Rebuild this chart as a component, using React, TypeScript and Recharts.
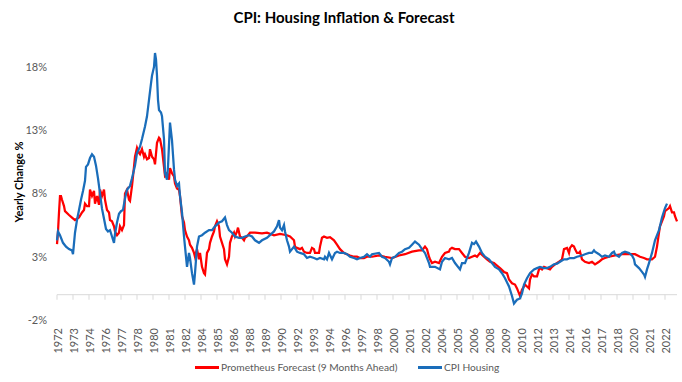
import { LineChart, Line, XAxis, YAxis, ReferenceLine } from "recharts";

// months counted from Jan 1972
const housingMonths = [
  0, 1, 3, 6, 9, 12, 15, 16, 18, 20, 22, 24, 26, 28, 29, 31, 33, 35, 37, 39,
  41, 43, 45, 47, 49, 51, 53, 55, 57, 58, 60, 62, 64, 66, 68, 70, 73, 75, 78, 80,
  83, 85, 88, 90, 92, 94, 95, 97, 98, 99, 100, 101, 102, 104, 105, 107, 108, 110, 111, 113,
  115, 117, 118, 120, 122, 123, 125, 127, 128, 130, 132, 133, 135, 137, 138, 140, 142, 145, 148, 152,
  155, 158, 162, 165, 168, 170, 172, 175, 178, 182, 185, 188, 192, 195, 198, 202, 205, 210, 217, 220,
  222, 223, 225, 227, 228, 230, 232, 233, 237, 240, 243, 247, 250, 253, 257, 260, 263, 267, 268, 270,
  272, 275, 278, 280, 283, 287, 290, 293, 297, 300, 303, 307, 310, 313, 315, 322, 325, 328, 332, 333,
  335, 338, 342, 345, 348, 352, 355, 358, 362, 365, 368, 372, 373, 378, 383, 385, 388, 392, 395, 398,
  403, 405, 408, 412, 415, 417, 419, 422, 425, 428, 432, 435, 438, 442, 445, 448, 452, 455, 457, 460,
  463, 465, 467, 470, 473, 477, 480, 483, 487, 490, 493, 497, 500, 503, 507, 510, 513, 517, 520, 525,
  528, 532, 535, 537, 538, 542, 545, 548, 552, 555, 557, 558, 562, 565, 568, 572, 575, 577, 578, 582,
  585, 587, 588, 590, 592, 595, 598, 602, 605, 608, 610,
];
const housingValues = [
  4.3, 5.0, 4.7, 4.1, 3.8, 3.6, 3.5, 3.2, 4.9, 5.9, 6.7, 7.5, 8.2, 9.0, 10.1, 10.3, 10.8, 11.1, 10.9, 10.2,
  9.2, 8.0, 6.8, 6.0, 5.2, 5.0, 5.1, 4.6, 4.1, 4.8, 5.7, 6.4, 6.6, 6.7, 7.6, 8.3, 8.6, 9.2, 10.2, 11.2,
  11.7, 12.3, 13.3, 14.1, 15.4, 16.7, 17.3, 18.0, 19.1, 18.6, 17.3, 15.4, 14.6, 14.4, 14.1, 12.3, 9.6, 9.1, 10.1, 13.6,
  12.2, 9.9, 9.1, 8.6, 8.8, 7.8, 6.5, 4.6, 3.8, 2.2, 3.3, 2.9, 1.7, 0.8, 1.7, 3.8, 4.6, 4.7, 4.9, 5.1,
  5.1, 5.4, 5.7, 5.8, 6.1, 5.5, 5.1, 4.9, 4.6, 4.5, 4.5, 4.6, 4.7, 4.6, 4.3, 4.1, 4.3, 4.5, 5.0, 5.4,
  5.9, 5.3, 5.1, 5.5, 5.0, 4.3, 3.8, 3.4, 3.8, 3.4, 3.3, 3.2, 2.9, 3.0, 2.9, 2.8, 2.9, 2.8, 3.0, 2.8,
  3.3, 2.8, 3.3, 3.4, 3.3, 3.3, 3.2, 3.0, 2.9, 2.8, 2.9, 3.0, 3.2, 3.0, 3.2, 3.3, 3.0, 2.9, 2.6, 2.4,
  2.9, 3.0, 3.3, 3.4, 3.6, 3.7, 3.95, 4.2, 3.95, 3.6, 3.3, 2.5, 2.2, 2.2, 2.0, 2.6, 2.9, 2.8, 2.9, 2.5,
  2.0, 2.5, 2.5, 3.3, 4.1, 4.0, 4.2, 3.8, 3.3, 3.0, 2.8, 2.5, 2.2, 2.0, 1.7, 1.3, 0.65, -0.1, -0.7, -0.4,
  -0.3, 0.1, 0.8, 1.3, 1.7, 2.0, 2.1, 2.2, 2.1, 2.1, 2.2, 2.4, 2.45, 2.6, 2.8, 2.8, 2.9, 2.9, 3.0, 3.1,
  3.2, 3.3, 3.3, 3.5, 3.4, 3.2, 3.0, 3.1, 3.0, 3.3, 3.4, 3.2, 3.0, 3.3, 3.4, 3.3, 3.1, 2.8, 2.4, 2.1,
  1.8, 1.6, 1.4, 2.0, 2.5, 3.3, 4.3, 5.1, 6.1, 6.85, 7.2,
];

const forecastMonths = [
  0, 1, 2, 3, 4, 5, 7, 8, 12, 15, 18, 22, 25, 27, 28, 30, 32, 33, 35, 37,
  38, 40, 42, 43, 45, 47, 48, 50, 52, 53, 55, 57, 58, 60, 62, 63, 65, 67, 68, 70,
  72, 73, 75, 77, 78, 80, 82, 83, 85, 87, 88, 90, 92, 93, 95, 97, 98, 100, 102, 103,
  105, 108, 110, 112, 113, 115, 117, 118, 120, 122, 123, 125, 127, 128, 130, 132, 133, 135, 137, 138,
  140, 142, 143, 145, 147, 148, 150, 152, 153, 155, 157, 158, 160, 162, 163, 165, 167, 168, 170, 172,
  173, 175, 177, 178, 180, 181, 183, 185, 187, 188, 190, 193, 198, 205, 210, 217, 223, 230, 233, 237,
  238, 240, 243, 245, 247, 250, 253, 255, 257, 258, 262, 263, 265, 267, 270, 273, 277, 280, 283, 287,
  290, 293, 297, 300, 303, 307, 310, 315, 322, 328, 335, 342, 348, 355, 362, 365, 368, 370, 372, 373,
  375, 378, 382, 385, 388, 392, 393, 395, 398, 402, 405, 408, 412, 415, 418, 420, 423, 427, 430, 433,
  437, 440, 443, 447, 450, 452, 455, 458, 460, 462, 463, 465, 467, 468, 470, 472, 473, 475, 477, 480,
  482, 483, 485, 487, 490, 493, 495, 498, 502, 505, 507, 510, 512, 513, 515, 517, 518, 520, 522, 523,
  525, 528, 532, 535, 538, 542, 545, 548, 552, 558, 565, 572, 578, 583, 587, 590, 595, 598, 600, 602,
  603, 605, 607, 608, 612, 613, 615, 617, 618, 620,
];
const forecastValues = [
  4.0, 5.0, 6.5, 7.8, 7.8, 7.5, 7.0, 6.6, 6.3, 6.1, 5.9, 6.1, 6.5, 6.7, 7.2, 7.0, 7.0, 8.3, 7.8, 8.2,
  7.2, 7.8, 7.1, 8.3, 7.8, 8.3, 7.5, 6.7, 6.5, 5.9, 5.8, 5.4, 5.0, 4.7, 4.9, 5.4, 5.1, 5.5, 8.0, 8.3,
  7.5, 7.4, 8.6, 10.1, 10.9, 11.6, 11.2, 11.1, 11.5, 10.9, 11.1, 10.7, 10.8, 11.5, 10.9, 10.7, 10.3, 12.0, 12.4, 12.3,
  11.5, 9.4, 9.6, 9.1, 10.0, 9.6, 9.35, 8.8, 8.4, 8.3, 7.8, 6.2, 5.7, 5.1, 4.6, 4.3, 3.95, 3.7, 3.3, 3.0,
  3.6, 2.8, 3.3, 2.2, 1.7, 1.6, 3.3, 3.6, 4.1, 4.6, 5.0, 5.4, 5.8, 5.4, 4.6, 4.1, 3.6, 2.8, 2.4, 3.0,
  4.1, 4.6, 4.9, 4.6, 5.0, 5.3, 4.6, 4.5, 4.3, 4.5, 4.6, 4.9, 4.9, 4.85, 4.9, 4.7, 4.8, 4.7, 4.6, 4.3,
  3.8, 3.7, 3.6, 3.7, 3.4, 3.3, 3.3, 3.7, 3.6, 3.3, 3.3, 3.8, 4.5, 4.6, 4.5, 4.55, 4.3, 3.95, 3.6, 3.3,
  3.2, 3.1, 3.0, 3.0, 2.9, 2.9, 3.0, 3.0, 3.1, 3.0, 2.9, 3.1, 3.2, 3.4, 3.5, 3.5, 3.8, 3.6, 3.0, 2.8,
  2.5, 2.6, 2.5, 3.0, 3.3, 3.4, 3.6, 3.7, 3.6, 3.6, 3.3, 3.0, 2.9, 3.0, 3.1, 3.0, 3.3, 3.0, 2.8, 2.6,
  2.5, 2.3, 2.1, 1.8, 1.7, 1.2, 0.9, 0.8, 0.5, 0.1, -0.1, 0.4, 0.65, 0.8, 0.65, 0.5, 1.2, 1.6, 1.45, 1.45,
  2.0, 2.1, 2.0, 2.2, 2.1, 2.0, 2.2, 2.4, 2.6, 2.8, 3.6, 3.7, 3.3, 3.7, 3.9, 3.8, 3.6, 3.3, 3.3, 3.4,
  2.8, 2.6, 2.5, 2.6, 2.4, 2.6, 2.8, 2.9, 3.0, 3.1, 3.2, 3.2, 3.2, 3.0, 2.9, 2.8, 2.8, 3.0, 3.8, 4.9,
  5.4, 5.8, 6.2, 6.6, 6.85, 7.0, 6.5, 6.5, 6.2, 5.8,
];

const xTickMonths = [
  0, 16, 32, 48, 64, 80, 96, 112, 128, 144, 160, 176, 192, 208, 224, 240, 256, 272, 288, 304,
  320, 336, 352, 368, 384, 400, 416, 432, 448, 464, 480, 496, 512, 528, 544, 560, 576, 592, 608,
];
const xTickLabels = [
  "1972", "1973", "1974", "1976", "1977", "1978", "1980", "1981", "1982", "1984",
  "1985", "1986", "1988", "1989", "1990", "1992", "1993", "1994", "1996", "1997",
  "1998", "2000", "2001", "2002", "2004", "2005", "2006", "2008", "2009", "2010",
  "2012", "2013", "2014", "2016", "2017", "2018", "2020", "2021", "2022",
];
const yTicks = [-2, 3, 8, 13, 18];

const housing = housingMonths.map((m, i) => ({ m, v: housingValues[i] }));
const forecast = forecastMonths.map((m, i) => ({ m, v: forecastValues[i] }));

const RED = "#ff0000";
const BLUE = "#1a6dba";
const GREY = "#595959";
const FONT = "Lato, 'Open Sans', sans-serif";

function YearTick({ x, y, payload }: any) {
  const label = xTickLabels[xTickMonths.indexOf(payload.value)];
  return (
    <text
      x={x}
      y={y}
      transform={`rotate(-90 ${x} ${y})`}
      textAnchor="end"
      dominantBaseline="central"
      fontSize={11}
      fill={GREY}
      fontFamily={FONT}
    >
      {label}
    </text>
  );
}

export default function App() {
  return (
    <div style={{ position: "relative", width: 682, height: 382, fontFamily: FONT, background: "#fff" }}>
      <style>{"body{margin:0}"}</style>
      <div
        style={{
          position: "absolute",
          top: 8,
          left: 0,
          width: 688,
          textAlign: "center",
          fontSize: 15,
          fontWeight: 700,
          color: "#000",
        }}
      >
        CPI: Housing Inflation &amp; Forecast
      </div>
      <div
        style={{
          position: "absolute",
          left: 18,
          top: 182,
          transform: "translate(-50%, -50%) rotate(-90deg)",
          whiteSpace: "nowrap",
          fontSize: 11,
          fontWeight: 700,
          color: "#000",
        }}
      >
        Yearly Change %
      </div>

      <LineChart width={682} height={382} margin={{ top: 29, right: 5, bottom: 32, left: 0 }}>
        <XAxis
          type="number"
          dataKey="m"
          domain={[0, 620]}
          ticks={xTickMonths}
          interval={0}
          tick={(p: any) => <YearTick {...p} />}
          axisLine={false}
          tickLine={false}
          tickSize={0}
          tickMargin={8}
          height={30}
        />
        <YAxis
          type="number"
          domain={[-2, 21]}
          ticks={yTicks}
          tickFormatter={(v) => `${v}%`}
          axisLine={false}
          tickLine={false}
          tickSize={0}
          tickMargin={10}
          width={57}
          tick={{ fontSize: 11, fill: GREY, fontFamily: FONT }}
        />
        <ReferenceLine y={0} stroke="#d9d9d9" strokeWidth={1} />
        {xTickMonths.map((t) => (
          <ReferenceLine
            key={t}
            segment={[
              { x: t, y: 0 },
              { x: t, y: -0.4 },
            ]}
            stroke="#d9d9d9"
            strokeWidth={1}
          />
        ))}
        <Line
          data={forecast}
          dataKey="v"
          type="linear"
          stroke={RED}
          strokeWidth={2.25}
          dot={false}
          isAnimationActive={false}
          name="Prometheus Forecast (9 Months Ahead)"
        />
        <Line
          data={housing}
          dataKey="v"
          type="linear"
          stroke={BLUE}
          strokeWidth={2.25}
          dot={false}
          isAnimationActive={false}
          name="CPI Housing"
        />
      </LineChart>

      <div style={{ position: "absolute", top: 359, left: 0, width: 682, height: 16, fontSize: 10.2, color: GREY }}>
        <div style={{ position: "absolute", left: 195, top: 7, width: 24, height: 2.5, background: RED }} />
        <div style={{ position: "absolute", left: 221, top: 0, lineHeight: "16px", whiteSpace: "nowrap" }}>
          Prometheus Forecast (9 Months Ahead)
        </div>
        <div style={{ position: "absolute", left: 418, top: 7, width: 24, height: 2.5, background: BLUE }} />
        <div style={{ position: "absolute", left: 444, top: 0, lineHeight: "16px", whiteSpace: "nowrap" }}>
          CPI Housing
        </div>
      </div>
    </div>
  );
}
